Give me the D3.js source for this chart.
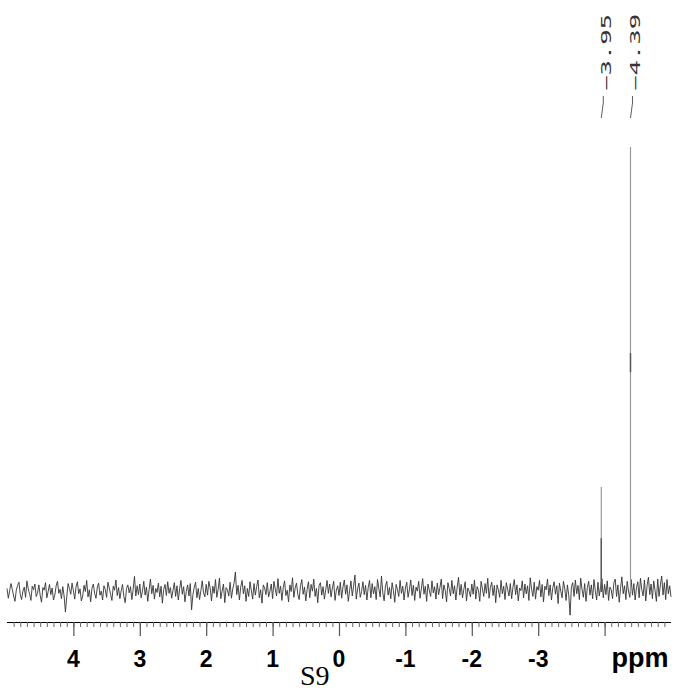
<!DOCTYPE html>
<html>
<head>
<meta charset="utf-8">
<script src="https://cdn.jsdelivr.net/npm/d3@7"></script>
<style>
  body { margin: 0; background: #fff; }
  svg { display: block; }
</style>
</head>
<body>
<div id="chart"></div>
<script>
// spectrum sampled from 5 ppm down to -5 ppm, 0.02 ppm apart
const ppmStart = 5;
const ppmStep = -0.02;
const noise = [
  8, -14, 3, 19, 6, -9, -21, 4, 15, 22, -6, -17, 2, 11, -12, 25, 7, -4, -19, 13, 5, 18, -10, -2, 16,
  -8, -23, 10, 4, 21, -13, 1, 17, -6, 9, -18, -7, 14, 24, -3, 6, -15, 12, -9, -45, -11, 19, 8, -5, 20,
  3, -16, 12, 23, -4, 7, -20, -9, 15, 1, 26, -11, 5, -22, 9, 18, -3, -14, 11, 20, -7, 2, -18, 14, 6,
  -12, 22, 9, -5, -19, 13, 4, 27, -8, 10, -15, 3, 17, -10, -24, 8, 16, -2, 12, -17, 6, 35, -9, 14, -6,
  18, -13, 2, 24, -7, 11, -21, 5, 29, -4, 15, -16, 8, -1, 20, -11, 13, -25, 6, 17, -8, 23, -3, 10, -14,
  4, 21, -10, 14, -18, 7, 26, -5, 12, -22, 1, 16, -9, 19, -40, -6, 11, 22, -13, 8, -17, 3, 25, -2, -11,
  17, -7, 24, 9, -20, 13, -3, 28, -12, 6, 31, -15, 2, 18, -24, 10, 5, -9, 22, -14, 7, 20, 45, -6, 15,
  -18, 11, 26, -4, 14, -21, 8, -10, 23, 3, -16, 19, -7, 12, 27, -13, 5, -25, 16, 9, -6, 21, -11, 2, 18,
  -15, 24, 7, -9, 30, -3, 13, -19, 10, 25, -8, 4, -22, 16, 1, 32, -12, 9, 20, -6, -17, 14, 28, -5, 11,
  -20, 6, 23, -13, 17, 2, 29, -10, 8, -24, 15, 21, -7, 12, -16, 5, 26, -3, 18, -11, 9, 24, -19, 4, 14,
  -8, 22, -14, 11, 27, -5, 16, -21, 3, 25, -9, 13, 38, -16, 7, 20, -12, 1, 23, -6, 15, -18, 10, 26, -13,
  19, -4, 12, -17, 28, 8, -11, 36, -2, -20, 14, 24, -7, 10, -15, 21, 3, -23, 17, 6, -10, 26, -3, 13, -18,
  9, 22, -12, 5, 27, -8, 15, -19, 11, 2, 24, -14, 7, 30, -5, 13, -21, 18, 4, -10, 25, -2, 12, -16, 20,
  -6, 10, 29, -15, 16, 3, -22, 21, 8, -9, 26, -4, 14, -18, 11, 33, -7, 17, -13, 6, 23, -20, 9, 2, -11,
  18, -5, 27, -16, 12, 4, -21, 24, 7, -10, 19, -3, 31, -14, 10, 22, -8, 15, -24, 16, 5, -12, 26, -4, 13,
  -17, 21, 6, -9, 19, -15, 11, 28, -6, 16, -20, 9, 3, 25, -13, 18, -4, 14, -19, 32, 7, -10, 22, -16, 12,
  4, 26, -11, 17, -22, 13, 5, 29, -8, 16, -18, 10, 23, -5, 14, -26, 20, 2, -13, 24, 8, -19, 16, -7, -52,
  12, 21, -10, 27, -4, 15, -17, 31, 6, -12, 19, -21, 10, 24, -7, 16, -15, 28, 3, -18, 22, -9, 13, 30, -13,
  17, -6, 25, -19, 11, 5, -15, 21, 29, -10, 16, -23, 8, 34, -4, 14, -17, 24, 2, -12, 28, -7, 19, -18, 10,
  23, -13, 31, 5, -9, 27, -20, 15, 33, -6, 18, -15, 25, 3, -21, 29, -10, 16, 36, -7, 21, -17, 28, -4, 14,
  -11
];

// the two peaks
const peakPpm = [-3.95, -4.39];
const peakHeight = [236, 1000];
const peakDarkLow = [0, 494];
const peakDarkHigh = [121, 537];
const peakLabels = ["\u22123.95", "\u22124.39"];

// axis
const majorTicks = [4, 3, 2, 1, 0, -1, -2, -3];
const minorTicks = d3.range(-49, 50).map(d => d / 10);
const axisUnit = "ppm";
const sampleName = "S9";

const width = 674, height = 692;

const svg = d3.select("#chart").append("svg")
  .attr("width", width)
  .attr("height", height);

const x = d3.scaleLinear().domain([5, -5]).range([7, 671]);
const y = d3.scaleLinear().domain([0, 1000]).range([592, 147]);

const points = noise.map((v, i) => [ppmStart + i * ppmStep, v]);

const line = d3.line()
  .x(d => x(d[0]))
  .y(d => y(d[1]));

svg.append("path")
  .datum(points)
  .attr("d", line)
  .attr("fill", "none")
  .attr("stroke", "#333")
  .attr("stroke-width", 0.9);

// peaks: faint full line with a darker part
peakPpm.forEach((p, i) => {
  svg.append("line")
    .attr("x1", x(p)).attr("x2", x(p))
    .attr("y1", y(0)).attr("y2", y(peakHeight[i]))
    .attr("stroke", "#9a9a9a")
    .attr("stroke-width", 1.2);
  svg.append("line")
    .attr("x1", x(p)).attr("x2", x(p))
    .attr("y1", y(peakDarkLow[i])).attr("y2", y(peakDarkHigh[i]))
    .attr("stroke", "#555")
    .attr("stroke-width", 1.4);
});

// peak labels, turned to read upward
const labels = svg.append("g");
peakPpm.forEach((p, i) => {
  const lx = x(p) + 2;
  labels.append("path")
    .attr("d", `M${lx},96 L${lx},103 L${x(p)},118`)
    .attr("fill", "none")
    .attr("stroke", "#333")
    .attr("stroke-width", 0.8);
  labels.append("text")
    .attr("transform", `translate(${lx + 8},91) rotate(-90) scale(1.9,1)`)
    .attr("font-family", "DejaVu Sans Mono")
    .attr("font-size", 13.5)
    .attr("fill", "#333")
    .text(peakLabels[i]);
});

// x axis
const axisY = 622;
const gMinor = svg.append("g")
  .attr("transform", `translate(0,${axisY})`)
  .call(d3.axisBottom(x).tickValues(minorTicks).tickSize(5).tickFormat(""));
gMinor.select(".domain").attr("stroke", "#000").attr("stroke-width", 1.2)
  .attr("d", `M${x(5)},0.5H${x(-5)}`);
gMinor.selectAll(".tick line").attr("stroke", "#666").attr("stroke-width", 1);

const gMajor = svg.append("g")
  .attr("transform", `translate(0,${axisY})`)
  .call(d3.axisBottom(x).tickValues(majorTicks.concat([-4])).tickSize(14).tickFormat(""));
gMajor.select(".domain").remove();
gMajor.selectAll(".tick line").attr("stroke", "#555").attr("stroke-width", 1.2);

svg.append("g").selectAll("text")
  .data(majorTicks)
  .join("text")
  .attr("x", d => x(d))
  .attr("y", 667)
  .attr("text-anchor", "middle")
  .attr("font-family", "Liberation Sans, Arial, sans-serif")
  .attr("font-weight", "bold")
  .attr("font-size", 23)
  .attr("fill", "#000")
  .text(d => d);

svg.append("text")
  .attr("x", 640)
  .attr("y", 667)
  .attr("text-anchor", "middle")
  .attr("font-family", "Liberation Sans, Arial, sans-serif")
  .attr("font-weight", "bold")
  .attr("font-size", 27)
  .attr("fill", "#000")
  .text(axisUnit);

svg.append("text")
  .attr("x", 300)
  .attr("y", 685)
  .attr("font-family", "Liberation Serif, Times New Roman, serif")
  .attr("font-size", 28)
  .attr("fill", "#000")
  .text(sampleName);
</script>
</body>
</html>
